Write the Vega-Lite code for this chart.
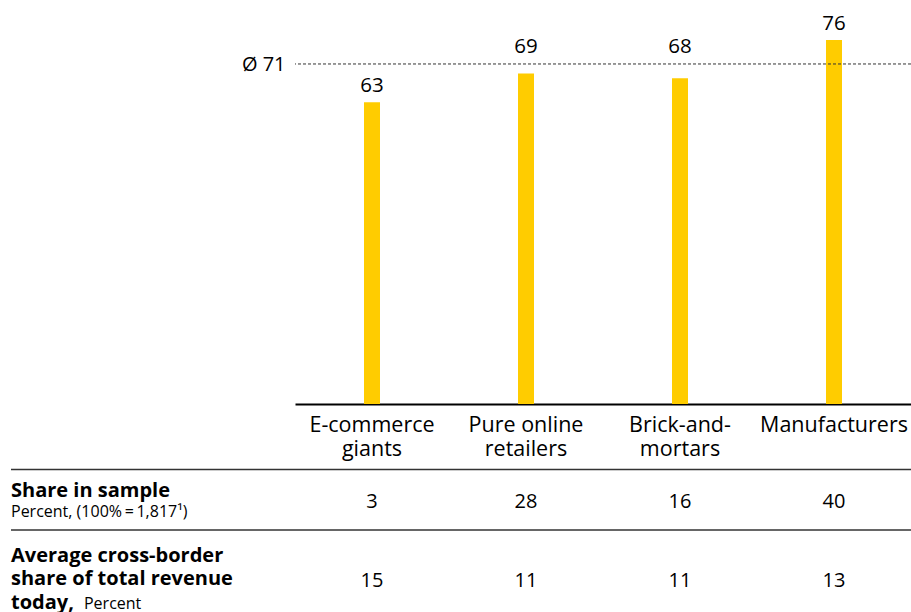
{
  "$schema": "https://vega.github.io/schema/vega-lite/v6.json",
  "background": "white",
  "padding": {"left": 10, "top": 0, "right": 1, "bottom": 0},
  "bounds": "flush",
  "spacing": 0,
  "columns": 2,
  "config": {
    "view": {"stroke": null},
    "font": "Open Sans",
    "text": {"color": "#000000"}
  },
  "datasets": {
    "segments": [
      {"segment": "E-commerce\ngiants", "value": 63},
      {"segment": "Pure online\nretailers", "value": 69},
      {"segment": "Brick-and-\nmortars", "value": 68},
      {"segment": "Manufacturers", "value": 76}
    ],
    "average": [{"avg": 71}],
    "rows": [
      {"metric": "Share in sample", "title": "Share in sample", "subtitle": "Percent, (100%\u2009=\u20091,817\u00b9)"},
      {"metric": "Average cross-border share of total revenue today", "title": "Average cross-border\nshare of total revenue\ntoday,", "subtitle": "Percent"}
    ],
    "table": [
      {"segment": "E-commerce\ngiants", "metric": "Share in sample", "value": 3},
      {"segment": "Pure online\nretailers", "metric": "Share in sample", "value": 28},
      {"segment": "Brick-and-\nmortars", "metric": "Share in sample", "value": 16},
      {"segment": "Manufacturers", "metric": "Share in sample", "value": 40},
      {"segment": "E-commerce\ngiants", "metric": "Average cross-border share of total revenue today", "value": 15},
      {"segment": "Pure online\nretailers", "metric": "Average cross-border share of total revenue today", "value": 11},
      {"segment": "Brick-and-\nmortars", "metric": "Average cross-border share of total revenue today", "value": 11},
      {"segment": "Manufacturers", "metric": "Average cross-border share of total revenue today", "value": 13}
    ]
  },
  "concat": [
    {
      "width": 284,
      "height": 404,
      "data": {"values": []},
      "mark": "text",
      "encoding": {}
    },
    {
      "width": 616,
      "height": 404,
      "layer": [
        {
          "data": {"name": "segments"},
          "mark": {"type": "bar", "color": "#FFCC00", "size": 16},
          "encoding": {
            "x": {
              "field": "segment", "type": "nominal", "sort": null,
              "scale": {"type": "band", "paddingInner": 0, "paddingOuter": 0},
              "axis": {
                "title": null, "labelAngle": 0, "ticks": false,
                "domainColor": "#000000", "domainWidth": 2,
                "labelFontSize": 21.5, "labelColor": "#000000", "labelPadding": 10,
                "labelLineHeight": 24.5, "labelBaseline": "top", "labelLimit": 0,
                "labelExpr": "split(datum.label, '\\n')"
              }
            },
            "y": {
              "field": "value", "type": "quantitative",
              "scale": {"domain": [0, 84.36], "nice": false},
              "axis": {
                "values": [71], "labelExpr": "'Ø ' + datum.label",
                "title": null, "domain": false, "ticks": false, "grid": false,
                "labelFontSize": 20, "labelPadding": 10, "labelColor": "#000000", "labelOffset": 1
              }
            }
          }
        },
        {
          "data": {"name": "segments"},
          "transform": [{"filter": "abs(datum.value - 71) >= 4"}],
          "mark": {"type": "text", "baseline": "alphabetic", "dy": -10, "fontSize": 20.5},
          "encoding": {
            "x": {"field": "segment", "type": "nominal", "sort": null},
            "y": {"field": "value", "type": "quantitative"},
            "text": {"field": "value", "type": "quantitative"}
          }
        },
        {
          "data": {"name": "segments"},
          "transform": [{"filter": "abs(datum.value - 71) < 4"}],
          "mark": {"type": "text", "baseline": "alphabetic", "dy": -11, "fontSize": 20.5},
          "encoding": {
            "x": {"field": "segment", "type": "nominal", "sort": null},
            "y": {"datum": 71, "type": "quantitative"},
            "text": {"field": "value", "type": "quantitative"}
          }
        },
        {
          "data": {"name": "average"},
          "mark": {"type": "rule", "color": "#333333", "strokeWidth": 1, "strokeDash": [3, 2]},
          "encoding": {
            "y": {"field": "avg", "type": "quantitative"}
          }
        }
      ]
    },
    {
      "width": 284,
      "height": 126,
      "data": {"name": "rows"},
      "transform": [{"filter": "datum.metric == 'Share in sample'"}],
      "layer": [
        {
          "mark": {"type": "rule", "color": "#333333", "strokeWidth": 1.5},
          "encoding": {
            "y": {"field": "metric", "type": "nominal", "bandPosition": 0.52, "scale": {"type": "band", "paddingInner": 0, "paddingOuter": 0}, "axis": null}
          }
        },
        {
          "mark": {"type": "text", "align": "left", "baseline": "alphabetic", "fontWeight": "bold", "fontSize": 20},
          "encoding": {
            "x": {"field": "metric", "type": "nominal", "bandPosition": 0, "scale": {"type": "band", "paddingInner": 0, "paddingOuter": 0}, "axis": null},
            "y": {"field": "metric", "type": "nominal", "bandPosition": 0.738},
            "text": {"field": "title"}
          }
        },
        {
          "mark": {"type": "text", "align": "left", "baseline": "alphabetic", "fontSize": 16},
          "encoding": {
            "x": {"field": "metric", "type": "nominal", "bandPosition": 0},
            "y": {"field": "metric", "type": "nominal", "bandPosition": 0.897},
            "text": {"field": "subtitle"}
          }
        }
      ]
    },
    {
      "width": 616,
      "height": 126,
      "layer": [
        {
          "data": {"name": "rows"},
          "transform": [{"filter": "datum.metric == 'Share in sample'"}],
          "mark": {"type": "rule", "color": "#333333", "strokeWidth": 1.5},
          "encoding": {
            "y": {"field": "metric", "type": "nominal", "bandPosition": 0.52, "scale": {"type": "band", "paddingInner": 0, "paddingOuter": 0}, "axis": null}
          }
        },
        {
          "data": {"name": "table"},
          "transform": [{"filter": "datum.metric == 'Share in sample'"}],
          "mark": {"type": "text", "baseline": "alphabetic", "fontSize": 20},
          "encoding": {
            "x": {"field": "segment", "type": "nominal", "sort": null, "scale": {"type": "band", "paddingInner": 0, "paddingOuter": 0}, "axis": null},
            "y": {"field": "metric", "type": "nominal", "bandPosition": 0.823},
            "text": {"field": "value", "type": "quantitative"}
          }
        }
      ]
    },
    {
      "width": 284,
      "height": 82,
      "data": {"name": "rows"},
      "transform": [{"filter": "datum.metric != 'Share in sample'"}],
      "layer": [
        {
          "mark": {"type": "rule", "color": "#333333", "strokeWidth": 1.5},
          "encoding": {
            "y": {"field": "metric", "type": "nominal", "bandPosition": 0, "scale": {"type": "band", "paddingInner": 0, "paddingOuter": 0}, "axis": null}
          }
        },
        {
          "mark": {"type": "text", "align": "left", "baseline": "alphabetic", "fontWeight": "bold", "fontSize": 20, "lineBreak": "\n", "lineHeight": 23.5},
          "encoding": {
            "x": {"field": "metric", "type": "nominal", "bandPosition": 0, "scale": {"type": "band", "paddingInner": 0, "paddingOuter": 0}, "axis": null},
            "y": {"field": "metric", "type": "nominal", "bandPosition": 0.39},
            "text": {"field": "title"}
          }
        },
        {
          "mark": {"type": "text", "align": "left", "baseline": "alphabetic", "fontSize": 16},
          "encoding": {
            "x": {"field": "metric", "type": "nominal", "bandPosition": 0.257},
            "y": {"field": "metric", "type": "nominal", "bandPosition": 0.963},
            "text": {"field": "subtitle"}
          }
        }
      ]
    },
    {
      "width": 616,
      "height": 82,
      "layer": [
        {
          "data": {"name": "rows"},
          "transform": [{"filter": "datum.metric != 'Share in sample'"}],
          "mark": {"type": "rule", "color": "#333333", "strokeWidth": 1.5},
          "encoding": {
            "y": {"field": "metric", "type": "nominal", "bandPosition": 0, "scale": {"type": "band", "paddingInner": 0, "paddingOuter": 0}, "axis": null}
          }
        },
        {
          "data": {"name": "table"},
          "transform": [{"filter": "datum.metric != 'Share in sample'"}],
          "mark": {"type": "text", "baseline": "alphabetic", "fontSize": 20},
          "encoding": {
            "x": {"field": "segment", "type": "nominal", "sort": null, "scale": {"type": "band", "paddingInner": 0, "paddingOuter": 0}, "axis": null},
            "y": {"field": "metric", "type": "nominal", "bandPosition": 0.69},
            "text": {"field": "value", "type": "quantitative"}
          }
        }
      ]
    }
  ]
}
